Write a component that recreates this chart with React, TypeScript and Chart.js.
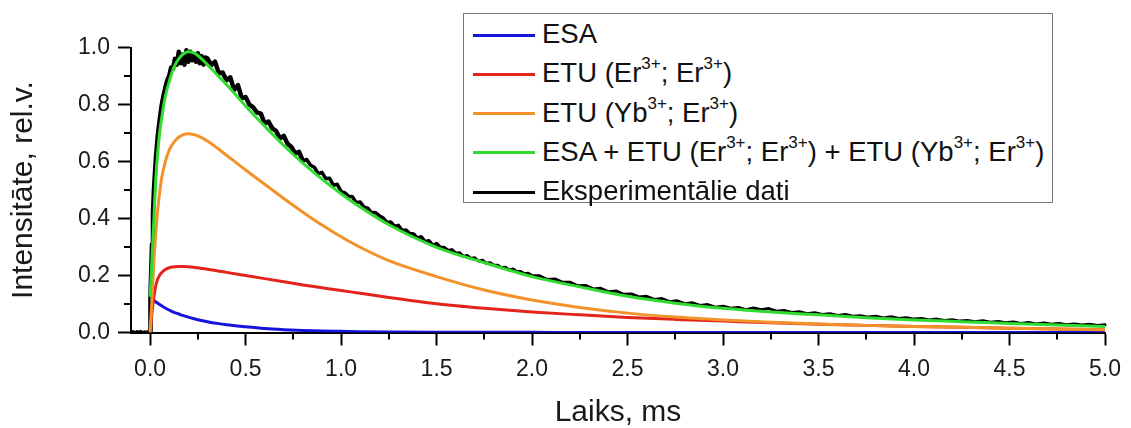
import React, { useEffect, useRef } from "react";
import { Chart, registerables } from "chart.js";

Chart.register(...registerables);

// ---- data ----
const fitTime = [0, 0.01, 0.02, 0.03, 0.04, 0.05, 0.06, 0.08, 0.1, 0.125, 0.15, 0.175, 0.2, 0.225, 0.25, 0.3, 0.35, 0.4, 0.5, 0.6, 0.7, 0.8, 0.9, 1.0, 1.1, 1.25, 1.5, 1.75, 2.0, 2.25, 2.5, 2.75, 3.0, 3.25, 3.5, 3.75, 4.0, 4.25, 4.5, 4.75, 5.0];

const esaValues = [0.12, 0.116, 0.112, 0.107, 0.103, 0.098, 0.094, 0.086, 0.079, 0.071, 0.065, 0.059, 0.054, 0.049, 0.045, 0.038, 0.032, 0.027, 0.02, 0.014, 0.01, 0.007, 0.005, 0.004, 0.003, 0.002, 0.001, 0.0008, 0.0005, 0, 0, 0, 0, 0, 0, 0, 0, 0, 0, 0, 0];

const etuErValues = [0, 0.07, 0.125, 0.165, 0.188, 0.201, 0.21, 0.221, 0.227, 0.23, 0.232, 0.232, 0.231, 0.229, 0.227, 0.222, 0.217, 0.211, 0.2, 0.189, 0.178, 0.167, 0.157, 0.147, 0.138, 0.123, 0.101, 0.085, 0.072, 0.062, 0.053, 0.046, 0.04, 0.034, 0.029, 0.025, 0.021, 0.018, 0.015, 0.012, 0.01];

const etuYbValues = [0, 0.12, 0.25, 0.35, 0.43, 0.49, 0.54, 0.6, 0.64, 0.668, 0.685, 0.694, 0.697, 0.695, 0.69, 0.672, 0.648, 0.622, 0.57, 0.52, 0.47, 0.422, 0.377, 0.336, 0.299, 0.252, 0.196, 0.149, 0.114, 0.088, 0.068, 0.054, 0.044, 0.036, 0.03, 0.025, 0.021, 0.018, 0.015, 0.012, 0.01];

const sumValues = [0.125, 0.26, 0.4, 0.54, 0.63, 0.7, 0.75, 0.83, 0.88, 0.93, 0.96, 0.978, 0.985, 0.982, 0.972, 0.94, 0.905, 0.87, 0.795, 0.724, 0.656, 0.594, 0.538, 0.487, 0.44, 0.378, 0.299, 0.245, 0.196, 0.16, 0.127, 0.103, 0.085, 0.072, 0.062, 0.052, 0.044, 0.038, 0.032, 0.026, 0.021];

const expTime = [
  -0.1, -0.09, -0.08, -0.07, -0.06, -0.05, -0.04, -0.03, -0.02, -0.01, 0.0,
  0.002, 0.006, 0.01, 0.015, 0.02, 0.03, 0.04, 0.05, 0.06, 0.07, 0.08, 0.09, 0.1,
  0.11, 0.12, 0.13, 0.14, 0.15, 0.16, 0.17, 0.18, 0.19, 0.2, 0.21, 0.22, 0.23, 0.24, 0.25, 0.26, 0.27, 0.28, 0.29,
  0.3, 0.32, 0.34, 0.36, 0.38, 0.4, 0.42, 0.44, 0.46, 0.48, 0.5, 0.52, 0.54, 0.56, 0.58, 0.6, 0.62, 0.64, 0.66, 0.68,
  0.7, 0.72, 0.74, 0.76, 0.78, 0.8, 0.82, 0.84, 0.86, 0.88, 0.9, 0.92, 0.94, 0.96, 0.98, 1.0,
  1.02, 1.04, 1.06, 1.08, 1.1, 1.12, 1.14, 1.16, 1.18, 1.2, 1.22, 1.24, 1.26, 1.28, 1.3, 1.32, 1.34, 1.36, 1.38, 1.4,
  1.42, 1.44, 1.46, 1.48, 1.5, 1.52, 1.54, 1.56, 1.58, 1.6, 1.62, 1.64, 1.66, 1.68, 1.7, 1.72, 1.74, 1.76, 1.78, 1.8,
  1.82, 1.84, 1.86, 1.88, 1.9, 1.92, 1.94, 1.96, 1.98, 2.0,
  2.04, 2.08, 2.12, 2.16, 2.2, 2.24, 2.28, 2.32, 2.36, 2.4, 2.44, 2.48, 2.52, 2.56, 2.6, 2.64, 2.68, 2.72, 2.76, 2.8,
  2.84, 2.88, 2.92, 2.96, 3.0, 3.04, 3.08, 3.12, 3.16, 3.2, 3.24, 3.28, 3.32, 3.36, 3.4, 3.44, 3.48, 3.52, 3.56, 3.6,
  3.64, 3.68, 3.72, 3.76, 3.8, 3.84, 3.88, 3.92, 3.96, 4.0, 4.04, 4.08, 4.12, 4.16, 4.2, 4.24, 4.28, 4.32, 4.36, 4.4,
  4.44, 4.48, 4.52, 4.56, 4.6, 4.64, 4.68, 4.72, 4.76, 4.8, 4.84, 4.88, 4.92, 4.96, 5.0,
];

const expValues = [
  0.003, 0.005, 0.002, 0.005, 0.003, 0.006, 0.002, 0.004, 0.003, 0.005, 0.003,
  0.13, 0.22, 0.31, 0.42, 0.5, 0.61, 0.69, 0.745, 0.795, 0.83, 0.86, 0.885, 0.9,
  0.93, 0.925, 0.96, 0.94, 0.985, 0.945, 0.975, 0.94, 0.99, 0.95, 0.985, 0.955, 0.975, 0.95, 0.98, 0.945, 0.97, 0.94, 0.965,
  0.962, 0.938, 0.95, 0.91, 0.912, 0.885, 0.895, 0.851, 0.868, 0.822, 0.826, 0.8, 0.79, 0.772, 0.768, 0.733, 0.74, 0.716, 0.707, 0.681,
  0.69, 0.662, 0.651, 0.628, 0.634, 0.602, 0.607, 0.587, 0.58, 0.557, 0.562, 0.54, 0.541, 0.516, 0.52, 0.495,
  0.49, 0.478, 0.476, 0.455, 0.458, 0.44, 0.436, 0.42, 0.421, 0.41, 0.402, 0.386, 0.388, 0.372, 0.376, 0.358, 0.36, 0.347, 0.346, 0.331,
  0.336, 0.319, 0.322, 0.306, 0.312, 0.298, 0.298, 0.287, 0.29, 0.278, 0.28, 0.267, 0.27, 0.26, 0.262, 0.25, 0.254, 0.243, 0.245, 0.236,
  0.236, 0.227, 0.229, 0.219, 0.223, 0.213, 0.214, 0.206, 0.208, 0.199,
  0.199, 0.186, 0.188, 0.176, 0.176, 0.164, 0.165, 0.153, 0.155, 0.143, 0.146, 0.134, 0.135, 0.125, 0.127, 0.116, 0.119, 0.108, 0.111, 0.101,
  0.104, 0.095, 0.098, 0.089, 0.092, 0.085, 0.088, 0.08, 0.086, 0.08, 0.084, 0.075, 0.077, 0.07, 0.073, 0.066, 0.069, 0.063, 0.066, 0.06,
  0.063, 0.057, 0.059, 0.054, 0.057, 0.051, 0.055, 0.049, 0.052, 0.047, 0.049, 0.044, 0.047, 0.042, 0.045, 0.04, 0.042, 0.038, 0.041, 0.036,
  0.039, 0.034, 0.037, 0.032, 0.035, 0.03, 0.033, 0.029, 0.032, 0.027, 0.03, 0.026, 0.029, 0.025, 0.027,
];

const xTickValues = [0, 0.5, 1.0, 1.5, 2.0, 2.5, 3.0, 3.5, 4.0, 4.5, 5.0];
const xMinorTicks = [0.25, 0.75, 1.25, 1.75, 2.25, 2.75, 3.25, 3.75, 4.25, 4.75];
const yTickValues = [0, 0.2, 0.4, 0.6, 0.8, 1.0];
const yMinorTicks = [0.1, 0.3, 0.5, 0.7, 0.9];

const xTitle = "Laiks, ms";
const yTitle = "Intensitāte, rel.v.";

type Seg = string | { sup: string };
const legendItems: { color: string; label: Seg[] }[] = [
  { color: "#1414dc", label: ["ESA"] },
  { color: "#e3241b", label: ["ETU (Er", { sup: "3+" }, "; Er", { sup: "3+" }, ")"] },
  { color: "#f3922b", label: ["ETU (Yb", { sup: "3+" }, "; Er", { sup: "3+" }, ")"] },
  { color: "#2fdc2f", label: ["ESA + ETU (Er", { sup: "3+" }, "; Er", { sup: "3+" }, ") + ETU (Yb", { sup: "3+" }, "; Er", { sup: "3+" }, ")"] },
  { color: "#000000", label: ["Eksperimentālie dati"] },
];

const FONT = '"Liberation Sans", Arial, Helvetica, sans-serif';

const pts = (xs: number[], ys: number[]) => xs.map((x, i) => ({ x, y: ys[i] }));

const minorTickPlugin = {
  id: "minorTicks",
  afterDraw(chart: any) {
    const { ctx } = chart;
    const xs = chart.scales.x;
    const ys = chart.scales.y;
    ctx.save();
    ctx.strokeStyle = "#000";
    ctx.lineWidth = 2;
    ctx.beginPath();
    xMinorTicks.forEach((v) => {
      const px = Math.round(xs.getPixelForValue(v));
      ctx.moveTo(px, xs.top);
      ctx.lineTo(px, xs.top + 7);
    });
    yMinorTicks.forEach((v) => {
      const py = Math.round(ys.getPixelForValue(v));
      ctx.moveTo(ys.right, py);
      ctx.lineTo(ys.right - 7, py);
    });
    ctx.stroke();
    ctx.restore();
  },
};

export default function App() {
  const ref = useRef<HTMLCanvasElement>(null);

  useEffect(() => {
    if (!ref.current) return;
    const lineDs = (label: string, data: any, color: string, width: number, extra: any = {}) => ({
      label,
      data,
      borderColor: color,
      backgroundColor: color,
      borderWidth: width,
      pointRadius: 0,
      fill: false,
      ...extra,
    });
    const chart = new Chart(ref.current, {
      type: "line",
      data: {
        datasets: [
          lineDs("sum", pts(fitTime, sumValues), legendItems[3].color, 3, { cubicInterpolationMode: "monotone" }),
          lineDs("yb", pts(fitTime, etuYbValues), legendItems[2].color, 3, { cubicInterpolationMode: "monotone" }),
          lineDs("er", pts(fitTime, etuErValues), legendItems[1].color, 3, { cubicInterpolationMode: "monotone" }),
          lineDs("esa", pts(fitTime, esaValues), legendItems[0].color, 3, { cubicInterpolationMode: "monotone" }),
          lineDs("exp", pts(expTime, expValues), "#000000", 3, {
            tension: 0,
            clip: false,
            borderJoinStyle: "round",
            borderCapStyle: "round",
            segment: {
              borderWidth: (c: any) => {
                const t = c.p0.parsed.x;
                if (t < 0) return 2;
                if (t < 0.8) return 4.5;
                if (t < 1.6) return 3.5;
                return 3;
              },
            },
          }),
        ],
      },
      options: {
        animation: false,
        responsive: true,
        maintainAspectRatio: false,
        parsing: false as any,
        layout: { padding: { top: 47.5, right: 17, left: 0, bottom: 0 } },
        plugins: { legend: { display: false }, tooltip: { enabled: false } },
        scales: {
          x: {
            type: "linear",
            min: -0.1,
            max: 5,
            afterBuildTicks: (s: any) => {
              s.ticks = xTickValues.map((value) => ({ value }));
            },
            afterFit: (s: any) => {
              s.height = 95.5;
            },
            grid: { drawOnChartArea: false, drawTicks: true, tickLength: 13, tickWidth: 2, tickColor: "#000", color: "#000" },
            border: { display: true, color: "#000", width: 2 },
            ticks: {
              padding: 10,
              color: "#1a1a1a",
              font: { family: FONT, size: 23 },
              maxRotation: 0,
              callback: (v: any) => Number(v).toFixed(1),
            },
            title: {
              display: true,
              text: xTitle,
              color: "#1a1a1a",
              font: { family: FONT, size: 30, lineHeight: 1 },
              padding: { top: 0, bottom: 0.5 },
            },
          },
          y: {
            type: "linear",
            min: 0,
            max: 1.0,
            afterBuildTicks: (s: any) => {
              s.ticks = yTickValues.map((value) => ({ value }));
            },
            afterFit: (s: any) => {
              s.width = 131;
            },
            grid: { drawOnChartArea: false, drawTicks: true, tickLength: 13, tickWidth: 2, tickColor: "#000", color: "#000" },
            border: { display: true, color: "#000", width: 2 },
            ticks: {
              padding: 8,
              color: "#1a1a1a",
              font: { family: FONT, size: 23 },
              callback: (v: any) => Number(v).toFixed(1),
            },
            title: {
              display: true,
              text: yTitle,
              color: "#1a1a1a",
              font: { family: FONT, size: 30, lineHeight: 1 },
              padding: { top: 9, bottom: 0 },
            },
          },
        },
      },
      plugins: [minorTickPlugin],
    });
    return () => chart.destroy();
  }, []);

  return (
    <div style={{ position: "fixed", left: 0, top: 0, width: 1131, height: 428, background: "#fff" }}>
      <canvas ref={ref} />
      <div
        style={{
          position: "absolute",
          left: 463,
          top: 13,
          width: 590,
          height: 190,
          border: "1.5px solid #777",
          boxSizing: "border-box",
          background: "#fff",
          fontFamily: FONT,
          fontSize: 27.5,
          color: "#111",
        }}
      >
        {legendItems.map((item, i) => (
          <div
            key={i}
            style={{
              position: "absolute",
              left: 0,
              top: 0 + i * 39.3,
              height: 40,
              lineHeight: "40px",
              whiteSpace: "nowrap",
            }}
          >
            <span
              style={{
                position: "absolute",
                left: 9,
                top: 19.5,
                width: 62,
                height: 3,
                background: item.color,
              }}
            />
            <span style={{ position: "absolute", left: 78, top: 0 }}>
              {item.label.map((seg, j) =>
                typeof seg === "string" ? (
                  <span key={j}>{seg}</span>
                ) : (
                  <span key={j} style={{ fontSize: 17, position: "relative", top: -13, verticalAlign: "baseline" }}>
                    {seg.sup}
                  </span>
                )
              )}
            </span>
          </div>
        ))}
      </div>
    </div>
  );
}
